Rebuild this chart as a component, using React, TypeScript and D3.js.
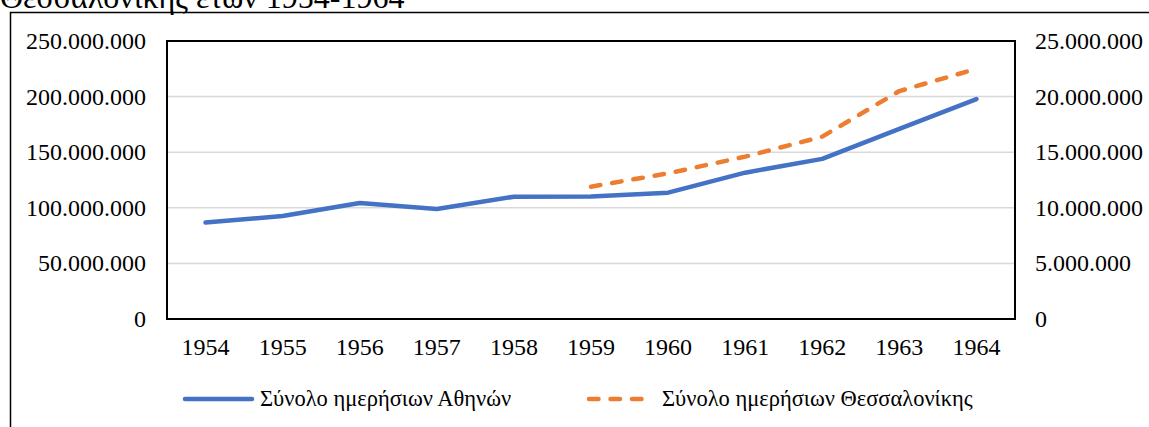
import React, { useEffect, useRef } from "react";
import * as d3 from "d3";

const years = ["1954", "1955", "1956", "1957", "1958", "1959", "1960", "1961", "1962", "1963", "1964"];
const athens = [86800000, 92600000, 104300000, 99000000, 110000000, 110200000, 113600000, 131600000, 144000000, 171000000, 197800000];
const thessYears = ["1959", "1960", "1961", "1962", "1963", "1964"];
const thess = [11900000, 13100000, 14600000, 16400000, 20500000, 22500000];
const leftTicks = [0, 50000000, 100000000, 150000000, 200000000, 250000000];
const rightTicks = [0, 5000000, 10000000, 15000000, 20000000, 25000000];
const seriesNames = ["Σύνολο ημερήσιων Αθηνών", "Σύνολο ημερήσιων Θεσσαλονίκης"];
const titleText = "Θεσσαλονίκης ετών 1954-1964";

const W = 1149;
const H = 427;
const FONT = "Liberation Serif, DejaVu Serif, serif";

const fmt = (v: number) => (v === 0 ? "0" : d3.format(",")(v).replace(/,/g, "."));

export default function App() {
  const svgRef = useRef<SVGSVGElement>(null);

  useEffect(() => {
    const svg = d3.select(svgRef.current);
    svg.selectAll("*").remove();

    const plot = { left: 167, top: 41, right: 1015, bottom: 319 };

    const x = d3.scaleBand().domain(years).range([plot.left, plot.right]);
    const yL = d3.scaleLinear().domain([0, 250000000]).range([plot.bottom, plot.top]);
    const yR = d3.scaleLinear().domain([0, 25000000]).range([plot.bottom, plot.top]);
    const cx = (d: string) => (x(d) as number) + x.bandwidth() / 2;

    const txt = (sel: any, size = 24) =>
      sel.style("font-family", FONT).style("font-size", size + "px").attr("fill", "#000");

    // title (cut off at top, as in the source)
    txt(svg.append("text").attr("x", 0).attr("y", 8).text(titleText), 32);

    // outer frame
    svg.append("rect")
      .attr("x", 10.5)
      .attr("y", 12.5)
      .attr("width", W + 20)
      .attr("height", H + 20)
      .attr("fill", "none")
      .attr("stroke", "#000")
      .attr("stroke-width", 1.5);

    // gridlines
    svg.append("g")
      .selectAll("line")
      .data(leftTicks.slice(1))
      .join("line")
      .attr("x1", plot.left)
      .attr("x2", plot.right)
      .attr("y1", (d) => yL(d))
      .attr("y2", (d) => yL(d))
      .attr("stroke", "#d9d9d9")
      .attr("stroke-width", 1.5);

    // plot border
    svg.append("rect")
      .attr("x", plot.left)
      .attr("y", plot.top)
      .attr("width", plot.right - plot.left)
      .attr("height", plot.bottom - plot.top)
      .attr("fill", "none")
      .attr("stroke", "#000")
      .attr("stroke-width", 2);

    // left axis labels
    txt(svg.append("g")
      .selectAll("text")
      .data(leftTicks)
      .join("text")
      .attr("x", 146)
      .attr("y", (d) => yL(d))
      .attr("dy", "0.33em")
      .attr("text-anchor", "end")
      .text((d) => fmt(d)));

    // right axis labels
    txt(svg.append("g")
      .selectAll("text")
      .data(rightTicks)
      .join("text")
      .attr("x", 1035)
      .attr("y", (d) => yR(d))
      .attr("dy", "0.33em")
      .text((d) => fmt(d)));

    // x labels
    txt(svg.append("g")
      .selectAll("text")
      .data(years)
      .join("text")
      .attr("x", (d) => cx(d))
      .attr("y", 347)
      .attr("dy", "0.33em")
      .attr("text-anchor", "middle")
      .text((d) => d));

    const lineA = d3.line<number>()
      .x((_, i) => cx(years[i]))
      .y((d) => yL(d));
    svg.append("path")
      .attr("d", lineA(athens))
      .attr("fill", "none")
      .attr("stroke", "#4472C4")
      .attr("stroke-width", 4.5)
      .attr("stroke-linejoin", "round")
      .attr("stroke-linecap", "round");

    const lineT = d3.line<number>()
      .x((_, i) => cx(thessYears[i]))
      .y((d) => yR(d));
    svg.append("path")
      .attr("d", lineT(thess))
      .attr("fill", "none")
      .attr("stroke", "#ED7D31")
      .attr("stroke-width", 4.5)
      .attr("stroke-dasharray", "9.5 12")
      .attr("stroke-linejoin", "round")
      .attr("stroke-linecap", "round");

    // legend
    const ly = 399;
    const legend = svg.append("g");
    legend.append("line")
      .attr("x1", 185).attr("x2", 252).attr("y1", ly).attr("y2", ly)
      .attr("stroke", "#4472C4").attr("stroke-width", 4.5).attr("stroke-linecap", "round");
    txt(legend.append("text")
      .attr("x", 260).attr("y", ly).attr("dy", "0.33em")
      .text(seriesNames[0]), 22.5);
    legend.append("line")
      .attr("x1", 589).attr("x2", 650).attr("y1", ly).attr("y2", ly)
      .attr("stroke", "#ED7D31").attr("stroke-width", 4.5)
      .attr("stroke-dasharray", "9.5 12").attr("stroke-linecap", "round");
    txt(legend.append("text")
      .attr("x", 662).attr("y", ly).attr("dy", "0.33em")
      .text(seriesNames[1]), 22.5);
  }, []);

  return (
    <svg
      ref={svgRef}
      width={W}
      height={H}
      style={{ position: "absolute", left: 0, top: 0, background: "#fff" }}
    />
  );
}
